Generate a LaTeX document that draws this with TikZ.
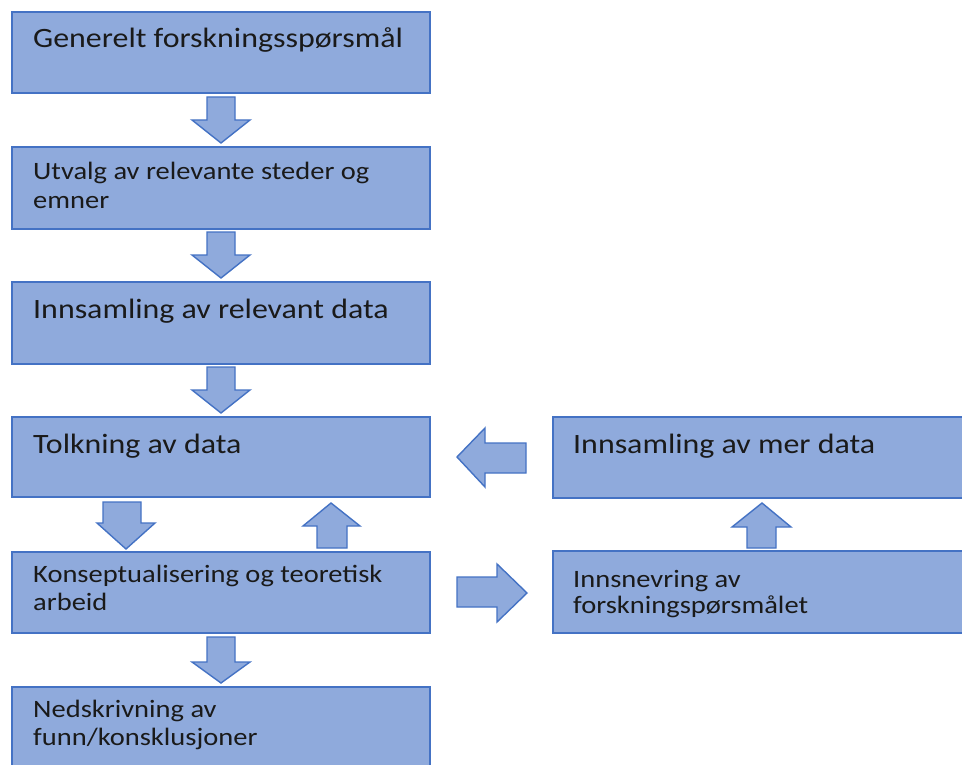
\documentclass[tikz,border=0pt]{standalone}
\usepackage{fontspec}
\setmainfont{Carlito}[FakeStretch=1.14]
\definecolor{boxfill}{HTML}{8FAADC}
\definecolor{boxline}{HTML}{4472C4}
\definecolor{txt}{HTML}{1A1A1A}
\begin{document}
\begin{tikzpicture}[x=1pt,y=-1pt,
  box/.style={draw=boxline,fill=boxfill,line width=1.6pt},
  barrow/.style={draw=boxline,fill=boxfill,line width=1.4pt,line join=miter},
  big/.style={font=\fontsize{28}{32}\selectfont,text=txt,inner sep=0pt,anchor=base west},
  small/.style={font=\fontsize{25}{28}\selectfont,text=txt,inner sep=0pt,anchor=base west,align=left}]
\useasboundingbox (0,0) rectangle (962,765);
\clip (0,0) rectangle (962,765);
\fill[white] (0,0) rectangle (962,765);
% boxes
\draw[box] (12,12) rectangle (430,93) coordinate (b1);
\draw[box] (12,147) rectangle (430,229) coordinate (b2);
\draw[box] (12,282) rectangle (430,364) coordinate (b3);
\draw[box] (12,417) rectangle (430,497) coordinate (b4);
\draw[box] (12,552) rectangle (430,633) coordinate (b5);
\draw[box] (12,687) rectangle (430,775) coordinate (b6);
\draw[box] (553,417) rectangle (975,498) coordinate (r1);
\draw[box] (553,551) rectangle (975,633) coordinate (r2);
% texts
\node[big] (t1) at (33,48) {Generelt forskningsspørsmål};
\node[small] (t2a) at (33,180) {Utvalg av relevante steder og};
\node[small] (t2b) at (33,208) {emner};
\node[big] (t3) at (33,318) {Innsamling av relevant data};
\node[big] (t4) at (33,453) {Tolkning av data};
\node[small] (t5a) at (33,582) {Konseptualisering og teoretisk};
\node[small] (t5b) at (33,610) {arbeid};
\node[small] (t6a) at (33,717) {Nedskrivning av};
\node[small] (t6b) at (33,745) {funn/konsklusjoner};
\node[big] (tr1) at (573,453) {Innsamling av mer data};
\node[small] (tr2a) at (573,587) {Innsnevring av};
\node[small] (tr2b) at (573,613) {forskningspørsmålet};
% block arrows (down, between stacked boxes)
\draw[barrow] (207,97) -- (235,97) -- (235,120) -- (250,120) -- (221,143) -- (192,120) -- (207,120) -- cycle;
\draw[barrow] (207,232) -- (235,232) -- (235,255) -- (250,255) -- (221,278) -- (192,255) -- (207,255) -- cycle;
\draw[barrow] (207,367) -- (235,367) -- (235,390) -- (250,390) -- (221,413) -- (192,390) -- (207,390) -- cycle;
\draw[barrow] (103,502) -- (141,502) -- (141,523) -- (155,523) -- (126,549) -- (97,523) -- (103,523) -- cycle;
\draw[barrow] (207,637) -- (235,637) -- (235,662) -- (250,662) -- (221,683) -- (192,662) -- (207,662) -- cycle;
% up arrows
\draw[barrow] (317,548) -- (347,548) -- (347,526) -- (360,526) -- (331,503) -- (303,526) -- (317,526) -- cycle;
\draw[barrow] (747,548) -- (776,548) -- (776,527) -- (791,527) -- (762,503) -- (732,527) -- (747,527) -- cycle;
% left arrow
\draw[barrow] (526,443) -- (526,473) -- (485,473) -- (485,487) -- (457,457) -- (485,428) -- (485,443) -- cycle;
% right arrow
\draw[barrow] (457,577) -- (457,607) -- (497,607) -- (497,622) -- (527,593) -- (497,564) -- (497,577) -- cycle;
\end{tikzpicture}
\end{document}
